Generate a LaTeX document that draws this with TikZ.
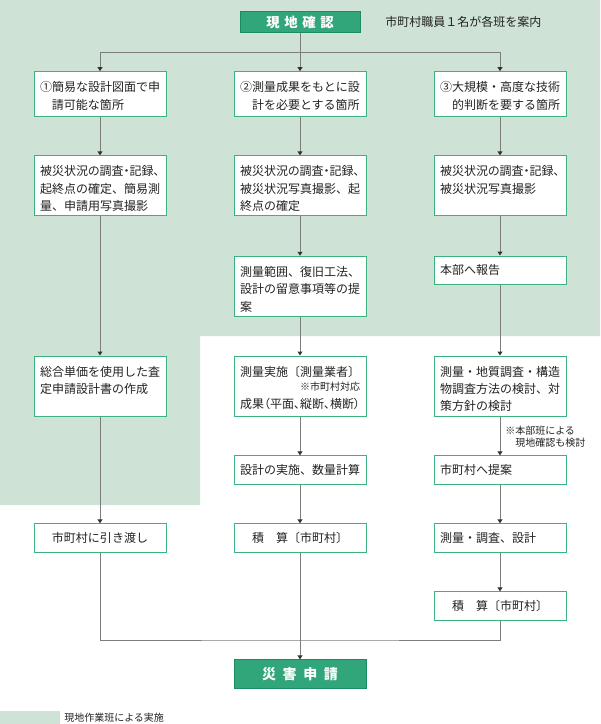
\documentclass[tikz,border=0pt]{standalone}
\usepackage{fontspec}
\setmainfont{Noto Sans CJK JP}
\newfontfamily\cjkp{Noto Sans CJK JP}[RawFeature=+palt]
\usetikzlibrary{arrows.meta}
\definecolor{bggreen}{RGB}{207,226,214}
\definecolor{boxline}{RGB}{60,178,128}
\definecolor{hdfill}{RGB}{49,166,122}
\definecolor{hdline}{RGB}{30,140,98}
\definecolor{lngray}{RGB}{125,125,125}
\definecolor{txtgray}{RGB}{34,34,34}

% box text held at the top of a fixed height
\newcommand{\topbox}[2]{\parbox[c][#1][t]{90pt}{\setlength{\baselineskip}{13.1pt}\rule{0pt}{15pt}#2}}

\begin{document}
\begin{tikzpicture}[x=0.75pt, y=-0.75pt,
  bx/.style={draw=boxline, fill=white, line width=0.75pt, text=txtgray,
    inner xsep=4.5pt, inner ysep=0pt, minimum width=99pt, minimum height=21.4pt,
    text width=90pt, align=left, font=\fontsize{9pt}{13.1pt}\selectfont},
  bxc/.style={bx, align=center},
  hd/.style={draw=hdline, fill=hdfill, text=white, inner sep=0pt,
    line width=0.75pt, font=\fontsize{10pt}{12pt}\selectfont\bfseries},
  ln/.style={draw=lngray, line width=0.75pt},
  ar/.style={ln, -{Triangle[length=3pt, width=3.6pt, color=black!80]}},
  nt/.style={inner sep=0pt, align=left, text=txtgray,
    font=\fontsize{7.5pt}{8.7pt}\selectfont}
]
  \useasboundingbox (0,0) rectangle (600,724);
  % area of the field team
  \fill[bggreen] (0,0) -- (600,0) -- (600,336) -- (200,336)
    -- (200,505) -- (0,505) -- cycle;

  \node[hd, minimum width=90pt, minimum height=15.5pt] (hd) at (300,22)
    {現\hspace{3.5pt}地\hspace{3.5pt}確\hspace{3.5pt}認};
  \node[anchor=west, inner sep=0pt, text=txtgray,
    font=\fontsize{9pt}{11pt}\selectfont] (guide) at (385,22)
    {市町村職員１名が各班を案内};

  % row 1
  \node[bx] (a1) at (100,94.2)
    {\topbox{33.75pt}{①簡易な設計図面で申\\\hspace*{9pt}請可能な箇所}};
  \node[bx] (b1) at (300,94.2)
    {\topbox{33.75pt}{②測量成果をもとに設\\\hspace*{9pt}計を必要とする箇所}};
  \node[bx] (c1) at (500,94.2)
    {\topbox{33.75pt}{③大規模・高度な技術\\\hspace*{9pt}的判断を要する箇所}};

  % row 2
  \node[bx] (a2) at (100,185.9)
    {\topbox{45pt}{{\cjkp 被災状況の調査・記録、}\\起終点の確定、簡易測\\量、申請用写真撮影}};
  \node[bx] (b2) at (300,185.9)
    {\topbox{45pt}{{\cjkp 被災状況の調査・記録、}\\被災状況写真撮影、起\\終点の確定}};
  \node[bx] (c2) at (500,185.9)
    {\topbox{45pt}{{\cjkp 被災状況の調査・記録、}\\被災状況写真撮影}};

  % row 3
  \node[bx] (b3) at (300,286.3)
    {\topbox{45pt}{測量範囲、復旧工法、\\設計の留意事項等の提\\案}};
  \node[bx] (c3) at (500,270.3) {本部へ報告};

  % row 4
  \node[bx] (a4) at (100,386)
    {\topbox{45pt}{総合単価を使用した査\\定申請設計書の作成}};
  \node[bx] (b4) at (300,386)
    {\topbox{45pt}{測量実施〔測量業者〕\\[-2.4pt]\hspace*{\fill}{\fontsize{7.5pt}{8pt}\selectfont ※市町村対応}\\[0.45pt]{\cjkp 成果（平面、縦断、横断）}}};
  \node[bx] (c4) at (500,386)
    {\topbox{45pt}{測量・地質調査・構造\\物調査方法の検討、対\\策方針の検討}};
  \node[nt, anchor=west] (nt1) at (505,436.5)
    {※本部班による\\\phantom{※}現地確認も検討};

  % row 5
  \node[bx] (b5) at (300,470.2) {設計の実施、数量計算};
  \node[bx] (c5) at (500,470.2) {市町村へ提案};

  % row 6 and 7
  \node[bxc] (a6) at (100,538.2) {市町村に引き渡し};
  \node[bxc] (b6) at (300,538.2) {積　算〔市町村〕};
  \node[bx] (c6) at (500,538.2) {測量・調査、設計};
  \node[bxc] (c7) at (500,606.2) {積　算〔市町村〕};

  \node[hd, minimum width=99pt, minimum height=21.5pt,
    font=\fontsize{10.5pt}{12pt}\selectfont\bfseries] (fin) at (300,674.3)
    {災\hspace{5pt}害\hspace{5pt}申\hspace{5pt}請};

  % connectors
  \coordinate (sp) at (300,52.7);
  \coordinate (mg) at (300,640);
  \draw[ar] (hd) -- (b1);
  \draw[ar] (sp) -| (a1);
  \draw[ar] (sp) -| (c1);
  \draw[ar] (a1) -- (a2);
  \draw[ar] (a2) -- (a4);
  \draw[ar] (a4) -- (a6);
  \draw[ar] (b1) -- (b2);
  \draw[ar] (b2) -- (b3);
  \draw[ar] (b3) -- (b4);
  \draw[ar] (b4) -- (b5);
  \draw[ar] (b5) -- (b6);
  \draw[ar] (b6) -- (fin);
  \draw[ar] (c1) -- (c2);
  \draw[ar] (c2) -- (c3);
  \draw[ar] (c3) -- (c4);
  \draw[ar] (c4) -- (c5);
  \draw[ar] (c5) -- (c6);
  \draw[ar] (c6) -- (c7);
  \draw[ln] (a6) |- (mg) -| (c7);

  % key
  \node[fill=bggreen, minimum width=44.5pt, minimum height=9.2pt,
    inner sep=0pt, anchor=south west] (key) at (0,724) {};
  \node[nt, anchor=west] (keytxt) at (64,718) {現地作業班による実施};
\end{tikzpicture}
\end{document}
